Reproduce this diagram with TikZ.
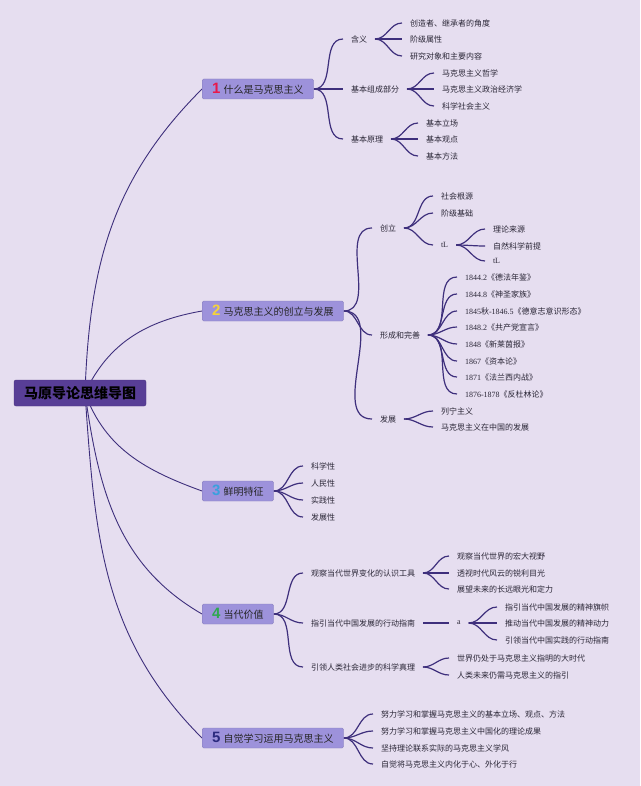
\documentclass[tikz,border=0pt]{standalone}
\usepackage{fontspec}
\setmainfont{Noto Sans CJK SC}
\newfontfamily\yrfont{Liberation Serif}
\newfontfamily\numfont{Liberation Sans}
\usepackage{xcolor}
\usepackage{tikz}
\usetikzlibrary{positioning}
\definecolor{cBg}{HTML}{E6DEF0}
\definecolor{cRoot}{HTML}{583E96}
\definecolor{cBox}{HTML}{9D92DB}
\definecolor{cLine}{HTML}{3E2F7C}
\definecolor{cText}{HTML}{2A2636}
\definecolor{cRed}{HTML}{E8194B}
\definecolor{cYellow}{HTML}{F5D33A}
\definecolor{cBlue}{HTML}{3AA0DE}
\definecolor{cGreen}{HTML}{2FA84F}
\definecolor{cNavy}{HTML}{2B2A7E}
\newcommand\bnum[2]{{\color{#1}\numfont\bfseries\fontsize{15}{15}\selectfont #2}\hspace{3pt}}
\newcommand\yr[1]{{\yrfont #1}}
\pgfdeclarelayer{bg}
\pgfsetlayers{bg,main}
\tikzset{
  root/.style={draw=cRoot!85!black,fill=cRoot,rounded corners=2pt,minimum width=132pt,minimum height=26pt,
    inner sep=0pt,text=black,font=\fontsize{14}{16}\selectfont\bfseries},
  topic/.style={draw=cBox!85!black,fill=cBox,rounded corners=1.5pt,anchor=west,minimum height=20pt,
    inner xsep=10pt,inner ysep=0pt,text=black!85,font=\fontsize{10}{12}\selectfont},
  leaf/.style={anchor=west,inner xsep=0pt,inner ysep=1pt,outer xsep=8pt,outer ysep=0pt,
    text=cText,font=\fontsize{8}{10}\selectfont},
  lk/.style={draw=cLine,line width=1.2pt,out=0,in=180},
  rlk/.style={draw=cLine,line width=0.9pt},
}
\begin{document}
\begin{tikzpicture}[x=1pt,y=1pt]
    \useasboundingbox (0,0) rectangle (640,-786);
    % root and the five topics
    \node[root] (r) at (80,-393) {马原导论思维导图};
    \node[topic] (t1) at (202,-89) {\bnum{cRed}{1}什么是马克思主义};
    \node[topic] (t2) at (202,-311) {\bnum{cYellow}{2}马克思主义的创立与发展};
    \node[topic] (t3) at (202,-491) {\bnum{cBlue}{3}鲜明特征};
    \node[topic] (t4) at (202,-614) {\bnum{cGreen}{4}当代价值};
    \node[topic] (t5) at (202,-738) {\bnum{cNavy}{5}自觉学习运用马克思主义};
    % topic 1
    \node[leaf] (s11) at (343,-39) {含义};
    \node[leaf] (s12) at (343,-89) {基本组成部分};
    \node[leaf] (s13) at (343,-139) {基本原理};
    \node[leaf] (l111) at (402,-23) {创造者、继承者的角度};
    \node[leaf] (l112) at (402,-39) {阶级属性};
    \node[leaf] (l113) at (402,-56) {研究对象和主要内容};
    \node[leaf] (l121) at (434,-73) {马克思主义哲学};
    \node[leaf] (l122) at (434,-89) {马克思主义政治经济学};
    \node[leaf] (l123) at (434,-106) {科学社会主义};
    \node[leaf] (l131) at (418,-123) {基本立场};
    \node[leaf] (l132) at (418,-139) {基本观点};
    \node[leaf] (l133) at (418,-156) {基本方法};
    % topic 2
    \node[leaf] (s21) at (372,-228) {创立};
    \node[leaf] (s22) at (372,-335) {形成和完善};
    \node[leaf] (s23) at (372,-419) {发展};
    \node[leaf] (l211) at (433,-196) {社会根源};
    \node[leaf] (l212) at (433,-213) {阶级基础};
    \node[leaf] (l213) at (433,-245) {\yr{tL}};
    \node[leaf] (m1) at (485,-229) {理论来源};
    \node[leaf] (m2) at (485,-246) {自然科学前提};
    \node[leaf] (m3) at (485,-261) {\yr{tL}};
    \node[leaf] (l221) at (457,-277) {\yr{1844.2}《德法年鉴》};
    \node[leaf] (l222) at (457,-294) {\yr{1844.8}《神圣家族》};
    \node[leaf] (l223) at (457,-311) {\yr{1845}秋\yr{-1846.5}《德意志意识形态》};
    \node[leaf] (l224) at (457,-327) {\yr{1848.2}《共产党宣言》};
    \node[leaf] (l225) at (457,-344) {\yr{1848}《新莱茵报》};
    \node[leaf] (l226) at (457,-361) {\yr{1867}《资本论》};
    \node[leaf] (l227) at (457,-377) {\yr{1871}《法兰西内战》};
    \node[leaf] (l228) at (457,-394) {\yr{1876-1878}《反杜林论》};
    \node[leaf] (l231) at (433,-411) {列宁主义};
    \node[leaf] (l232) at (433,-427) {马克思主义在中国的发展};
    % topic 3
    \node[leaf] (l31) at (303,-466) {科学性};
    \node[leaf] (l32) at (303,-483) {人民性};
    \node[leaf] (l33) at (303,-500) {实践性};
    \node[leaf] (l34) at (303,-517) {发展性};
    % topic 4
    \node[leaf] (s41) at (303,-573) {观察当代世界变化的认识工具};
    \node[leaf] (s42) at (303,-623) {指引当代中国发展的行动指南};
    \node[leaf] (s43) at (303,-667) {引领人类社会进步的科学真理};
    \node[leaf] (l411) at (449,-556) {观察当代世界的宏大视野};
    \node[leaf] (l412) at (449,-573) {透视时代风云的锐利目光};
    \node[leaf] (l413) at (449,-589) {展望未来的长远眼光和定力};
    \node[leaf] (l42) at (449,-623) {\yr{a}};
    \node[leaf] (n1) at (497,-607) {指引当代中国发展的精神旗帜};
    \node[leaf] (n2) at (497,-623) {推动当代中国发展的精神动力};
    \node[leaf] (n3) at (497,-640) {引领当代中国实践的行动指南};
    \node[leaf] (l431) at (449,-658) {世界仍处于马克思主义指明的大时代};
    \node[leaf] (l432) at (449,-675) {人类未来仍需马克思主义的指引};
    % topic 5
    \node[leaf] (l51) at (373,-714) {努力学习和掌握马克思主义的基本立场、观点、方法};
    \node[leaf] (l52) at (373,-731) {努力学习和掌握马克思主义中国化的理论成果};
    \node[leaf] (l53) at (373,-748) {坚持理论联系实际的马克思主义学风};
    \node[leaf] (l54) at (373,-764) {自觉将马克思主义内化于心、外化于行};
    \begin{pgfonlayer}{bg}
      \fill[cBg] (0,0) rectangle (640,-786);
      % root links
      \draw[rlk] ([xshift=5pt]r.center) to[out=88,in=225] (t1.west);
      \draw[rlk] ([xshift=5pt]r.center) to[out=65,in=190] (t2.west);
      \draw[rlk] ([xshift=5pt]r.center) to[out=-70,in=160] (t3.west);
      \draw[rlk] ([xshift=5pt]r.center) to[out=-82,in=150] (t4.west);
      \draw[rlk] ([xshift=5pt]r.center) to[out=-86,in=135] (t5.west);
      % topic 1 links
      \draw[lk] (t1.east) to (s11.west);
      \draw[lk] (t1.east) to (s12.west);
      \draw[lk] (t1.east) to (s13.west);
      \draw[lk] (s11.east) to (l111.west);
      \draw[lk] (s11.east) to (l112.west);
      \draw[lk] (s11.east) to (l113.west);
      \draw[lk] (s12.east) to (l121.west);
      \draw[lk] (s12.east) to (l122.west);
      \draw[lk] (s12.east) to (l123.west);
      \draw[lk] (s13.east) to (l131.west);
      \draw[lk] (s13.east) to (l132.west);
      \draw[lk] (s13.east) to (l133.west);
      % topic 2 links
      \draw[lk] (t2.east) to (s21.west);
      \draw[lk] (t2.east) to (s22.west);
      \draw[lk] (t2.east) to (s23.west);
      \draw[lk] (s21.east) to (l211.west);
      \draw[lk] (s21.east) to (l212.west);
      \draw[lk] (s21.east) to (l213.west);
      \draw[lk] (l213.east) to (m1.west);
      \draw[lk] (l213.east) to (m2.west);
      \draw[lk] (l213.east) to (m3.west);
      \draw[lk] (s22.east) to (l221.west);
      \draw[lk] (s22.east) to (l222.west);
      \draw[lk] (s22.east) to (l223.west);
      \draw[lk] (s22.east) to (l224.west);
      \draw[lk] (s22.east) to (l225.west);
      \draw[lk] (s22.east) to (l226.west);
      \draw[lk] (s22.east) to (l227.west);
      \draw[lk] (s22.east) to (l228.west);
      \draw[lk] (s23.east) to (l231.west);
      \draw[lk] (s23.east) to (l232.west);
      % topic 3 links
      \draw[lk] (t3.east) to (l31.west);
      \draw[lk] (t3.east) to (l32.west);
      \draw[lk] (t3.east) to (l33.west);
      \draw[lk] (t3.east) to (l34.west);
      % topic 4 links
      \draw[lk] (t4.east) to (s41.west);
      \draw[lk] (t4.east) to (s42.west);
      \draw[lk] (t4.east) to (s43.west);
      \draw[lk] (s41.east) to (l411.west);
      \draw[lk] (s41.east) to (l412.west);
      \draw[lk] (s41.east) to (l413.west);
      \draw[lk] (s42.east) to (l42.west);
      \draw[lk] (l42.east) to (n1.west);
      \draw[lk] (l42.east) to (n2.west);
      \draw[lk] (l42.east) to (n3.west);
      \draw[lk] (s43.east) to (l431.west);
      \draw[lk] (s43.east) to (l432.west);
      % topic 5 links
      \draw[lk] (t5.east) to (l51.west);
      \draw[lk] (t5.east) to (l52.west);
      \draw[lk] (t5.east) to (l53.west);
      \draw[lk] (t5.east) to (l54.west);
    \end{pgfonlayer}
  \end{tikzpicture}
\end{document}
